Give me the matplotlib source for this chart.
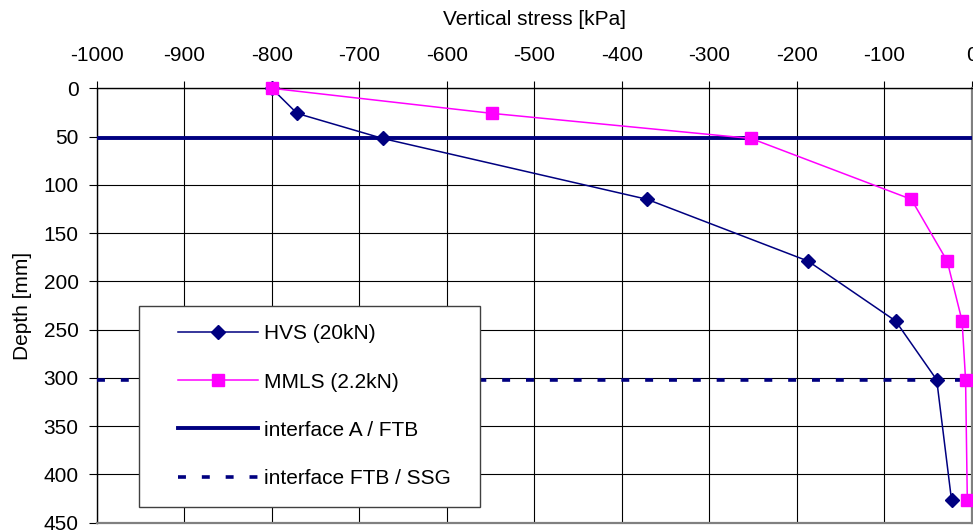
import numpy as np
import matplotlib
matplotlib.use("Agg")
import matplotlib.pyplot as plt
from matplotlib.patches import Rectangle

plt.rcParams['font.family'] = ['Liberation Sans', 'DejaVu Sans']
plt.rcParams['axes.unicode_minus'] = False

# depth of each measuring point [mm]
depth = [0, 26, 52, 115, 179, 241, 302, 427]
# vertical stress [kPa]
hvs_stress = [-800, -771, -673, -371, -187, -87, -40, -23]
mmls_stress = [-800, -548, -252, -69, -28, -11, -7, -5]
# layer interfaces [mm]
interface_a_ftb = 52
interface_ftb_ssg = 302

x_ticks = np.arange(-1000, 1, 100)
y_ticks = np.arange(0, 451, 50)

navy = '#000080'
magenta = '#FF00FF'
FS = 15

W, H = 973, 531
fig = plt.figure(figsize=(W / 100, H / 100), dpi=100)
ax = fig.add_axes([96.7 / W, 1 - 522.7 / H, (971.7 - 96.7) / W, (522.7 - 88.3) / H])

ax.plot(hvs_stress, depth, color=navy, lw=1.1, marker='D', ms=7, mfc=navy, mec=navy,
        label='HVS (20kN)', zorder=4, clip_on=False)
ax.plot(mmls_stress, depth, color=magenta, lw=1.1, marker='s', ms=8, mfc=magenta, mec=magenta,
        label='MMLS (2.2kN)', zorder=4, clip_on=False)
ax.axhline(interface_a_ftb, color=navy, lw=2.8, label='interface A / FTB', zorder=3)
ax.axhline(interface_ftb_ssg, color=navy, lw=2.6, ls=(0, (2.2, 4.4)),
           dash_capstyle='butt', label='interface FTB / SSG', zorder=3)

ax.set_xlim(-1000, 0)
ax.set_ylim(450, 0)
ax.set_xticks(x_ticks)
ax.set_yticks(y_ticks)
ax.xaxis.tick_top()
ax.xaxis.set_label_position('top')
ax.grid(True, color='black', lw=0.8)
ax.set_axisbelow(True)

ax.tick_params(axis='x', direction='out', length=5, width=0.8, pad=12, labelsize=FS)
ax.tick_params(axis='y', direction='out', length=6, width=0.8, pad=7, labelsize=FS)

ax.set_xlabel('Vertical stress [kPa]', fontsize=FS, labelpad=15)
ax.set_ylabel('Depth [mm]', fontsize=FS, labelpad=8)

for side in ['top', 'left']:
    ax.spines[side].set_color('black')
    ax.spines[side].set_linewidth(1.0)
for side in ['right', 'bottom']:
    ax.spines[side].set_color('#808080')
    ax.spines[side].set_linewidth(1.6)

# legend box with a fixed frame
fx0, fy0, fx1, fy1 = 139.3, 306, 480, 507.3
ax.add_patch(Rectangle((fx0 / W, 1 - fy1 / H), (fx1 - fx0) / W, (fy1 - fy0) / H,
                       transform=fig.transFigure, facecolor='white', edgecolor='#404040',
                       lw=1.0, zorder=6))
leg = ax.legend(loc='upper left', bbox_to_anchor=(168 / W, 1 - 314 / H),
                bbox_transform=fig.transFigure, frameon=False, fontsize=FS,
                handlelength=3.8, handletextpad=0.3, labelspacing=1.4, borderpad=0)
leg.set_zorder(7)

fig.savefig('out.png', dpi=100)
